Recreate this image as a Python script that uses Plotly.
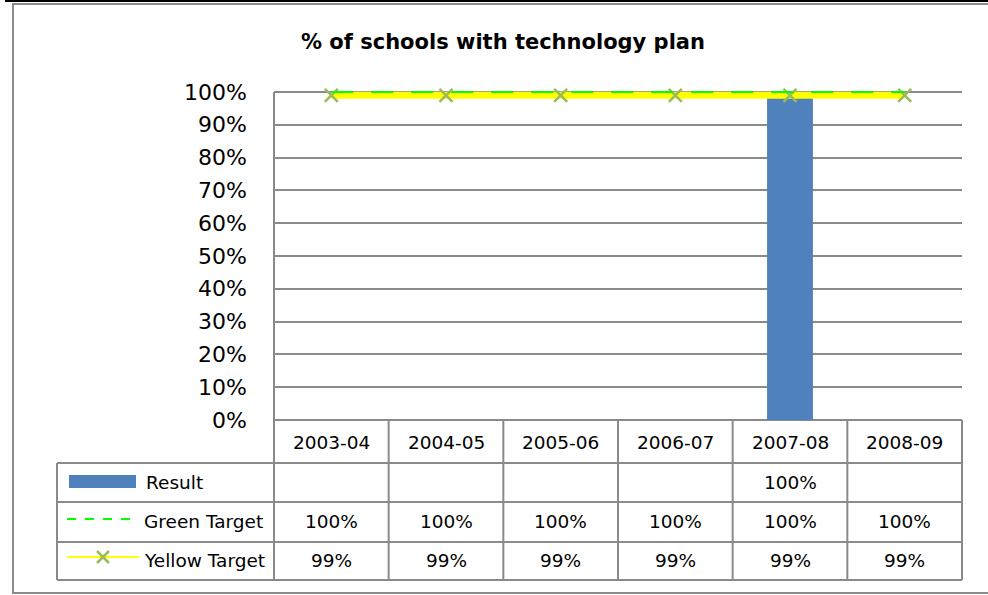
import plotly.graph_objects as go

# ---------------- data ----------------
categories = ["2003-04", "2004-05", "2005-06", "2006-07", "2007-08", "2008-09"]
result = [None, None, None, None, 1.00, None]
green_target = [1.00, 1.00, 1.00, 1.00, 1.00, 1.00]
yellow_target = [0.99, 0.99, 0.99, 0.99, 0.99, 0.99]
y_ticks = [0.0, 0.1, 0.2, 0.3, 0.4, 0.5, 0.6, 0.7, 0.8, 0.9, 1.0]
y_tick_labels = ["0%", "10%", "20%", "30%", "40%", "50%", "60%", "70%", "80%", "90%", "100%"]
series_names = ["Result", "Green Target", "Yellow Target"]
title_text = "% of schools with technology plan"

# ---------------- geometry helpers ----------------
W, H = 988, 595
def px(x):
    return x / W
def py(y):
    return 1 - y / H

FONT = "DejaVu Sans"
GRID = "#8a8a8a"
BLUE = "#4F81BD"
LIME = "#00FF00"
YEL = "#FFFF00"
OLIVE = "#9BBB59"

y_bottom_px, y_top_px = 420, 92          # 0% and 100% pixel rows
ymax = 1.04
span = (y_bottom_px - y_top_px) / 1.0
dom_top_px = y_bottom_px - ymax * span

fig = go.Figure()

fig.add_trace(go.Bar(x=categories, y=result, name=series_names[0],
                     marker=dict(color=BLUE, line=dict(width=0)), width=0.4))
fig.add_trace(go.Scatter(x=categories, y=yellow_target, name=series_names[2], mode="lines+markers",
                         line=dict(color=YEL, width=7),
                         marker=dict(symbol="x-thin", size=13, color=OLIVE,
                                     line=dict(color=OLIVE, width=2.5)),
                         cliponaxis=False))
fig.add_trace(go.Scatter(x=categories, y=green_target, name=series_names[1], mode="lines",
                         line=dict(color=LIME, width=2, dash="22px,18px")))

shapes = []
def hline_px(x0, x1, y, color=GRID, w=2):
    shapes.append(dict(type="line", xref="paper", yref="paper", x0=px(x0), x1=px(x1),
                       y0=py(y), y1=py(y), line=dict(color=color, width=w), layer="above"))
def vline_px(x, y0, y1, color=GRID, w=2):
    shapes.append(dict(type="line", xref="paper", yref="paper", x0=px(x), x1=px(x),
                       y0=py(y0), y1=py(y1), line=dict(color=color, width=w), layer="above"))

# outer chart border
shapes.append(dict(type="line", xref="paper", yref="paper", x0=px(5), x1=1.0, y0=py(1), y1=py(1),
                   line=dict(color="#000000", width=2)))
hline_px(12, 988, 4, color="#8a8a8a", w=2)
vline_px(13, 4, 593, color="#8a8a8a", w=2)
hline_px(12, 988, 593, color="#8a8a8a", w=2)

# y axis line within plot (0..100%)
shapes.append(dict(type="line", xref="paper", yref="y", x0=px(274), x1=px(274), y0=0, y1=1,
                   line=dict(color=GRID, width=2), layer="above"))

# data table grid
row_lines = [463, 502, 542, 580]
for r in row_lines:
    hline_px(57, 962, r)
vline_px(57, 463, 580)
col_w = (962 - 274) / len(categories)
for i in range(len(categories) + 1):
    vline_px(274 + i * col_w, 420, 580)

# legend keys in table
shapes.append(dict(type="rect", xref="paper", yref="paper", x0=px(69), x1=px(136),
                   y0=py(488), y1=py(475), fillcolor=BLUE, line=dict(width=0)))
shapes.append(dict(type="line", xref="paper", yref="paper", x0=px(67), x1=px(134),
                   y0=py(519), y1=py(519), line=dict(color=LIME, width=2, dash="dash")))
shapes.append(dict(type="line", xref="paper", yref="paper", x0=px(67), x1=px(139),
                   y0=py(557), y1=py(557), line=dict(color=YEL, width=2)))
for (a, b) in [((97, 551), (109, 563)), ((97, 563), (109, 551))]:
    shapes.append(dict(type="line", xref="paper", yref="paper", x0=px(a[0]), x1=px(b[0]),
                       y0=py(a[1]), y1=py(b[1]), line=dict(color=OLIVE, width=2.5)))

annotations = []
annotations.append(dict(text="<b>" + title_text + "</b>", xref="paper", yref="paper",
                        x=px(503), y=py(42), showarrow=False,
                        font=dict(family=FONT, size=21, color="#000000"),
                        xanchor="center", yanchor="middle"))

# y tick labels
for v, lab in zip(y_ticks, y_tick_labels):
    annotations.append(dict(text=lab, xref="paper", yref="y", x=px(249), y=v, showarrow=False,
                            font=dict(family=FONT, size=22, color="#000000"),
                            xanchor="right", yanchor="middle"))

TF = 18.5
# header row: categories
for i, c in enumerate(categories):
    annotations.append(dict(text=c, xref="x", yref="paper", x=c, y=py(442), showarrow=False,
                            font=dict(family=FONT, size=TF, color="#000000"),
                            xanchor="center", yanchor="middle"))

row_centers = [482, 521, 560]
row_data = [result, green_target, yellow_target]
for name, yc, vals in zip(series_names, row_centers, row_data):
    lx = 144 if name == "Result" else 142
    annotations.append(dict(text=name, xref="paper", yref="paper", x=px(lx), y=py(yc),
                            showarrow=False, font=dict(family=FONT, size=TF, color="#000000"),
                            xanchor="left", yanchor="middle"))
    for c, v in zip(categories, vals):
        if v is None:
            continue
        annotations.append(dict(text=f"{v*100:.0f}%", xref="x", yref="paper", x=c, y=py(yc),
                                showarrow=False, font=dict(family=FONT, size=TF, color="#000000"),
                                xanchor="center", yanchor="middle"))

fig.update_layout(
    template="none",
    width=W, height=H,
    autosize=False,
    margin=dict(l=0, r=0, t=0, b=0, pad=0),
    paper_bgcolor="#ffffff", plot_bgcolor="#ffffff",
    showlegend=False,
    barmode="overlay",
    hovermode=False,
    shapes=shapes,
    annotations=annotations,
    xaxis=dict(domain=[px(274), px(962)], range=[-0.5, 5.5], type="category",
               categoryorder="array", categoryarray=categories, automargin=False,
               showticklabels=False, showgrid=False, zeroline=False, showline=False, ticks=""),
    yaxis=dict(domain=[py(y_bottom_px), py(dom_top_px)], range=[0, ymax], automargin=False,
               tickvals=y_ticks, showticklabels=False,
               showgrid=True, gridcolor=GRID, gridwidth=2,
               zeroline=True, zerolinecolor=GRID, zerolinewidth=2,
               showline=False, ticks=""),
)

fig.write_html("out.html", config={"displayModeBar": False},
               post_script="document.body.style.margin='0px';document.body.style.overflow='hidden';")
